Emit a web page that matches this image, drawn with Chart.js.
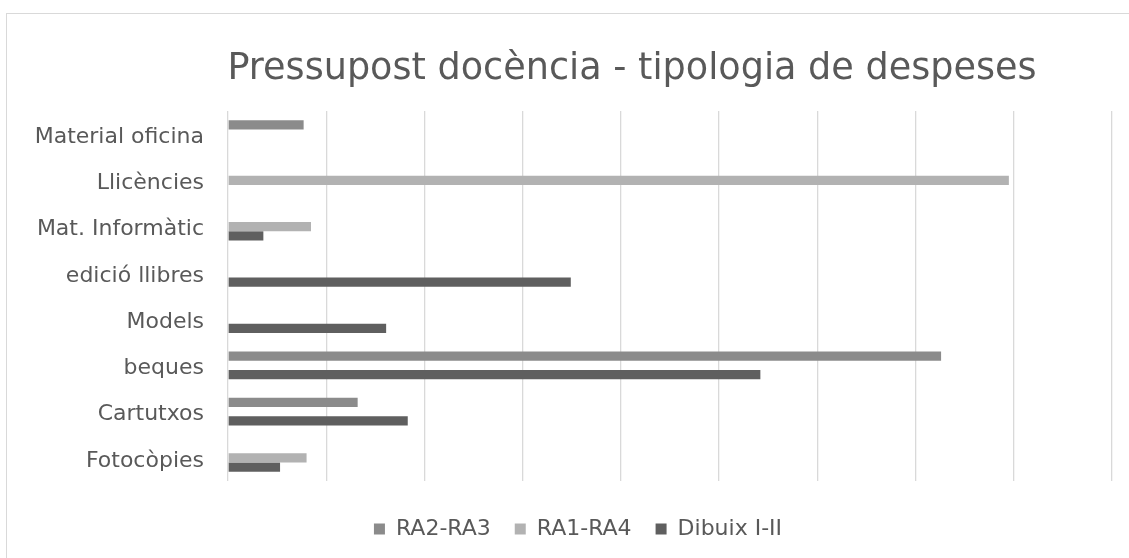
<!DOCTYPE html>
<html>
<head>
<meta charset="utf-8">
<script src="https://cdn.jsdelivr.net/npm/chart.js@4.4.1/dist/chart.umd.min.js"></script>
<style>
  html, body { margin: 0; padding: 0; background: #ffffff; overflow: hidden; }
  #wrap { position: relative; width: 1129px; height: 558px; }
  #frame { position: absolute; left: 6px; top: 13px; width: 3000px; height: 3000px;
           border-left: 1px solid #d9d9d9; border-top: 1px solid #d9d9d9; pointer-events: none; }
  canvas { position: absolute; left: 0; top: 0; }
</style>
</head>
<body>
<div id="wrap">
  <div id="frame"></div>
  <canvas id="c" width="1129" height="558"></canvas>
</div>
<script>
const titleText = 'Pressupost docència - tipologia de despeses';
const categories = ['Material oficina', 'Llicències', 'Mat. Informàtic', 'edició llibres', 'Models', 'beques', 'Cartutxos', 'Fotocòpies'];
const seriesNames = ['RA2-RA3', 'RA1-RA4', 'Dibuix I-II'];
const ra2ra3 = [770, null, null, null, null, 7260, 1320, null];
const ra1ra4 = [null, 7950, 845, null, null, null, null, 800];
const dibuix = [null, null, 360, 3490, 1610, 5420, 1830, 530];
const xMax = 9000;
const xStep = 1000;

const textColor = '#595959';
const fontFamily = '"DejaVu Sans", Lato, sans-serif';

const shiftPlugin = {
  id: 'shiftBoxes',
  afterLayout(chart) {
    const t = chart.titleBlock;
    if (t) { t.left += 66; t.right += 66; }
    const l = chart.legend;
    if (l) { l.left += 12; l.right += 12; }
  }
};

new Chart(document.getElementById('c'), {
  type: 'bar',
  data: {
    labels: categories,
    datasets: [
      { label: seriesNames[0], data: ra2ra3, backgroundColor: '#8b8b8b' },
      { label: seriesNames[1], data: ra1ra4, backgroundColor: '#b2b2b2' },
      { label: seriesNames[2], data: dibuix, backgroundColor: '#5f5f5f' }
    ]
  },
  options: {
    indexAxis: 'y',
    responsive: false,
    animation: false,
    devicePixelRatio: 1,
    categoryPercentage: 0.6,
    barPercentage: 1.0,
    layout: { padding: { left: 20, right: 17, top: 0, bottom: 8 } },
    plugins: {
      tooltip: { enabled: false },
      title: {
        display: true,
        text: titleText,
        color: textColor,
        font: { family: fontFamily, size: 36.6, weight: 'normal' },
        padding: { top: 48, bottom: 19 }
      },
      legend: {
        position: 'bottom',
        labels: {
          color: textColor,
          font: { family: fontFamily, size: 22 },
          boxWidth: 11,
          boxHeight: 11,
          padding: 24
        }
      }
    },
    scales: {
      x: {
        min: 0,
        max: xMax,
        ticks: { display: false, stepSize: xStep },
        grid: { color: '#d9d9d9', lineWidth: 1.3, drawTicks: false },
        border: { display: false },
        afterFit(scale) { scale.height = 13; }
      },
      y: {
        ticks: { color: textColor, font: { family: fontFamily, size: 22 }, padding: 24, labelOffset: 3 },
        grid: { display: false, drawTicks: false },
        border: { display: false },
        afterFit(scale) { scale.width = 208; }
      }
    }
  },
  plugins: [shiftPlugin]
});
</script>
</body>
</html>
